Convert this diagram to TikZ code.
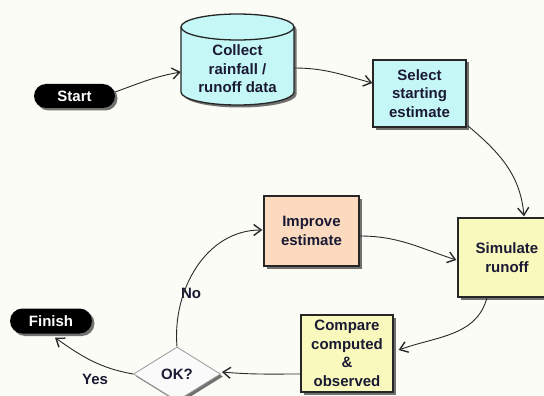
\documentclass[tikz,border=0pt]{standalone}
\usepackage{fontspec}
\setmainfont{Liberation Sans}
\usetikzlibrary{shapes.geometric,shapes.misc,shadows,arrows.meta}
\definecolor{bg}{HTML}{FCFCF6}
\definecolor{cyanfill}{HTML}{C6F7F7}
\definecolor{yellowfill}{HTML}{F9F9BE}
\definecolor{peachfill}{HTML}{FBDABF}
\definecolor{navy}{HTML}{1A1A34}
\definecolor{linegray}{HTML}{2A2A2A}
\begin{document}
\begin{tikzpicture}[x=1pt,y=1pt,
  txt/.style={font=\fontsize{15}{18.5}\selectfont\bfseries, text=navy, align=center},
  shad/.style={drop shadow={shadow xshift=2.5pt, shadow yshift=-2.5pt, fill=black!65, opacity=0.85}},
  procbox/.style={txt, draw=black!85, line width=1.3pt, inner sep=0, shad},
  pill/.style={rounded rectangle, fill=black, text=white, font=\fontsize{15}{18}\selectfont\bfseries, inner sep=0, shad},
  conn/.style={draw=linegray, line width=0.9pt, -{Straight Barb[length=7.5pt,width=11pt,line width=1.4pt]}},
  lbl/.style={txt}
]
\useasboundingbox (0,0) rectangle (544,-396);
\fill[bg] (0,0) rectangle (544,-396);

% cylinder
\fill[black!65,opacity=0.85,shift={(2.5,-2.5)}] (181,-27) -- (181,-92) arc[start angle=180,end angle=360,x radius=56.5,y radius=13] -- (294,-27) arc[start angle=0,end angle=180,x radius=56.5,y radius=13] -- cycle;
\draw[fill=cyanfill, draw=black!85, line width=1.3pt] (181,-27) -- (181,-92) arc[start angle=180,end angle=360,x radius=56.5,y radius=13] -- (294,-27) arc[start angle=0,end angle=180,x radius=56.5,y radius=13] -- cycle;
\draw[black!85, line width=1.3pt] (181,-27) arc[start angle=180,end angle=360,x radius=56.5,y radius=13];
\node[minimum width=113pt, minimum height=91pt, inner sep=0] (collect) at (237.5,-59.5) {};
\node[txt] (collecttext) at (237.5,-69) {Collect\\rainfall /\\runoff data};

\node[pill, minimum width=81pt, minimum height=24pt] (start) at (74.5,-96) {Start};
\node[pill, minimum width=82pt, minimum height=25pt] (finish) at (51,-321) {Finish};

\node[procbox, fill=cyanfill, minimum width=93pt, minimum height=67pt] (select) at (419.5,-93.5) {Select\\starting\\estimate};
\node[procbox, fill=yellowfill, minimum width=98pt, minimum height=79pt] (simulate) at (507,-257.5) {Simulate\\runoff};
\node[procbox, fill=yellowfill, minimum width=92pt, minimum height=77pt] (compare) at (347,-353.5) {Compare\\computed\\\&\\observed};
\node[procbox, fill=peachfill, minimum width=95pt, minimum height=70pt] (improve) at (311.5,-231) {Improve\\estimate};

\node[diamond, txt, draw=black!40, line width=0.8pt, fill=white!96!gray, minimum width=87pt, minimum height=54pt, aspect=1.6, inner sep=0, shad] (ok) at (177,-374) {OK?};

\node[lbl] (nolabel) at (191,-293) {No};
\node[lbl] (yeslabel) at (95,-379) {Yes};

\draw[conn] ([yshift=4pt]start.east) to[out=20,in=190] ([yshift=-12.5pt]collect.west);
\draw[conn] ([yshift=-8.5pt]collect.east) to[out=0,in=165] ([yshift=10.5pt]select.west);
\draw[conn] ([xshift=1pt,yshift=2pt]select.south east) to[out=-40,in=95] ([xshift=17pt,yshift=1pt]simulate.north);
\draw[conn] ([yshift=-5pt]improve.east) to[out=0,in=162] ([xshift=-1pt,yshift=-2.5pt]simulate.west);
\draw[conn] ([xshift=-20pt]simulate.south) to[out=-105,in=20] ([xshift=5pt,yshift=3.5pt]compare.east);
\draw[conn] ([yshift=-20.5pt]compare.west) to[out=180,in=-5] ([xshift=1pt,yshift=2pt]ok.east);
\draw[conn] (ok.north) to[out=95,in=180] ([xshift=-1pt,yshift=1pt]improve.west);
\draw[conn] (ok.west) to[out=170,in=-35] ([xshift=4pt,yshift=-4pt]finish.south);
\end{tikzpicture}
\end{document}
